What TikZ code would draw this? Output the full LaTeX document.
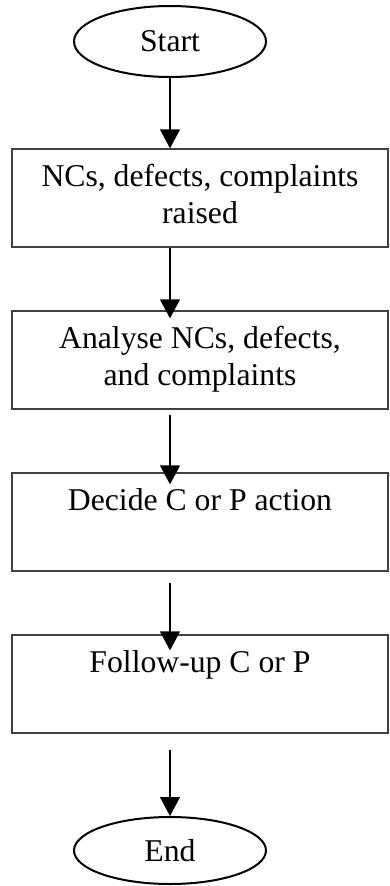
\documentclass[tikz,border=0pt]{standalone}
\usepackage{fontspec}
\setmainfont{Liberation Serif}
\usetikzlibrary{arrows.meta,shapes.geometric}
\begin{document}
\begin{tikzpicture}[x=1pt,y=-1pt,
  every node/.style={font=\fontsize{31.7}{37}\selectfont},
  term/.style={draw=black, line width=2pt, ellipse, minimum width=192pt, inner sep=0pt},
  procbox/.style={draw=black!75, line width=1.3pt, rectangle, minimum width=376pt, minimum height=98pt, inner sep=0pt, align=center},
  arr/.style={draw=black, line width=1.4pt, -{Triangle[width=20pt,length=19pt]}}]
\useasboundingbox (0,0) rectangle (389,886);
\node[term, minimum height=71pt] (start) at (170,41.5) {Start};
\node[procbox] (b1) at (200,198) {\strut NCs, defects, complaints\\\strut raised};
\node[procbox] (b2) at (200,360) {\strut Analyse NCs, defects,\\\strut and complaints};
\node[procbox] (b3) at (200,522) {\strut Decide C or P action\\\strut};
\node[procbox] (b4) at (200,684) {\strut Follow-up C or P\\\strut};
\node[term, minimum height=67pt] (stop) at (170,850.5) {End};
\draw[arr] (start.south) -- (start.south |- b1.north);
\draw[arr, shorten >=-8pt] (start.south |- b1.south) -- (start.south |- b2.north);
\draw[arr, shorten <=5pt, shorten >=-12pt] (start.south |- b2.south) -- (start.south |- b3.north);
\draw[arr, shorten <=11pt, shorten >=-16pt] (start.south |- b3.south) -- (start.south |- b4.north);
\draw[arr, shorten <=16pt] (start.south |- b4.south) -- (stop.north);
\end{tikzpicture}
\end{document}
